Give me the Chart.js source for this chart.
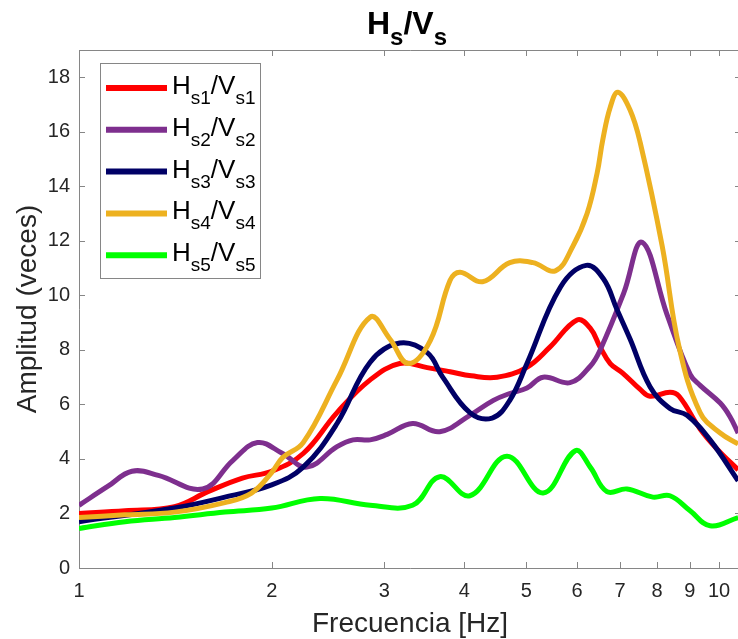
<!DOCTYPE html>
<html lang="es">
<head>
<meta charset="UTF-8" />
<title>Hs/Vs</title>
<style>
  html, body { margin: 0; padding: 0; background: #fff; overflow: hidden; }
  #wrap { width: 745px; height: 639px; }
</style>
<script src="https://cdn.jsdelivr.net/npm/chart.js@4"></script>
</head>
<body>
<div id="wrap"><canvas id="hv" width="745" height="639"></canvas></div>
<script>
  // cocientes espectrales H/V por estación: frecuencia [Hz] y amplitud
  const hv1Frec = [1.0, 1.18, 1.41, 1.59, 1.8, 2.0, 2.24, 2.53, 2.85, 3.17, 3.5, 3.8, 4.1, 4.5, 5.0, 5.44, 6.0, 6.29, 6.52, 6.76, 7.07, 7.53, 7.8, 8.38, 8.66, 9.34, 9.94, 10.71];
  const hv1Amp  = [2.0, 2.1, 2.25, 2.8, 3.3, 3.55, 4.2, 5.7, 6.9, 7.5, 7.35, 7.2, 7.05, 7.0, 7.35, 8.1, 9.1, 8.8, 8.1, 7.5, 7.15, 6.55, 6.3, 6.45, 6.3, 5.1, 4.35, 3.6];

  const hv2Frec = [1.0, 1.11, 1.21, 1.33, 1.56, 1.74, 1.9, 2.08, 2.27, 2.53, 2.68, 2.85, 3.03, 3.32, 3.66, 4.08, 4.44, 4.71, 5.01, 5.31, 5.85, 6.29, 6.52, 7.1, 7.58, 8.29, 9.01, 9.34, 10.04, 10.4, 10.71];
  const hv2Amp  = [2.3, 3.0, 3.55, 3.4, 2.9, 3.95, 4.6, 4.2, 3.7, 4.45, 4.7, 4.7, 4.9, 5.3, 5.0, 5.6, 6.15, 6.4, 6.6, 7.0, 6.8, 7.4, 8.0, 10.1, 11.95, 9.3, 7.1, 6.7, 6.05, 5.55, 4.95];

  const hv3Frec = [1.0, 1.41, 1.69, 2.0, 2.24, 2.53, 2.85, 3.17, 3.5, 3.7, 4.08, 4.42, 4.71, 5.01, 5.65, 6.2, 6.6, 6.92, 7.26, 7.8, 8.38, 8.91, 9.68, 10.71];
  const hv3Amp  = [1.7, 2.2, 2.6, 3.05, 3.7, 5.3, 7.55, 8.25, 7.9, 7.0, 5.7, 5.5, 6.15, 7.5, 10.3, 11.1, 10.6, 9.5, 8.4, 6.65, 5.85, 5.6, 4.7, 3.2];

  const hv4Frec = [1.0, 1.18, 1.41, 1.69, 1.86, 2.0, 2.08, 2.24, 2.53, 2.85, 3.06, 3.27, 3.54, 3.8, 3.94, 4.27, 4.71, 5.12, 5.55, 5.91, 6.22, 6.45, 6.58, 6.76, 6.95, 7.26, 7.53, 8.15, 8.66, 9.34, 10.04, 10.71];
  const hv4Amp  = [1.85, 1.95, 2.05, 2.4, 2.75, 3.5, 4.05, 4.6, 6.9, 9.2, 8.4, 7.5, 8.35, 10.55, 10.85, 10.5, 11.2, 11.2, 10.9, 11.8, 13.0, 14.5, 15.7, 16.9, 17.45, 16.8, 15.6, 11.8, 8.1, 5.7, 4.95, 4.55];

  const hv5Frec = [1.0, 1.18, 1.41, 1.69, 2.0, 2.38, 2.85, 3.32, 3.66, 4.08, 4.66, 5.31, 5.96, 6.29, 6.68, 7.18, 7.88, 8.38, 9.01, 9.68, 10.71];
  const hv5Amp  = [1.45, 1.7, 1.85, 2.05, 2.2, 2.55, 2.3, 2.3, 3.35, 2.65, 4.1, 2.75, 4.3, 3.7, 2.8, 2.9, 2.6, 2.65, 2.1, 1.55, 1.85];

  const estaciones = ['1', '2', '3', '4', '5'];
  const colores = ['#ff0000', '#7e2f8e', '#000066', '#edb120', '#00ff00'];
  const frecuencias = [hv1Frec, hv2Frec, hv3Frec, hv4Frec, hv5Frec];
  const amplitudes = [hv1Amp, hv2Amp, hv3Amp, hv4Amp, hv5Amp];

  const xTicks = [1, 2, 3, 4, 5, 6, 7, 8, 9, 10];
  const yTicks = [0, 2, 4, 6, 8, 10, 12, 14, 16, 18];

  const FONT = '"Liberation Sans", Arial, Helvetica, sans-serif';
  const AXIS_GRAY = '#868686';
  const TEXT_GRAY = '#262626';

  // texto con subíndices: partes [texto, esSub]
  function richWidth(ctx, parts, size, subSize, weight) {
    let w = 0;
    for (const [t, sub] of parts) {
      ctx.font = weight + ' ' + (sub ? subSize : size) + 'px ' + FONT;
      w += ctx.measureText(t).width;
    }
    return w;
  }
  function drawRich(ctx, parts, x, y, size, subSize, shift, weight) {
    ctx.textAlign = 'left';
    ctx.textBaseline = 'alphabetic';
    for (const [t, sub] of parts) {
      ctx.font = weight + ' ' + (sub ? subSize : size) + 'px ' + FONT;
      ctx.fillText(t, x, sub ? y + shift : y);
      x += ctx.measureText(t).width;
    }
  }
  const hvParts = (s) => [['H', false], ['s' + s, true], ['/', false], ['V', false], ['s' + s, true]];

  const datasets = estaciones.map((s, i) => ({
    label: 'Hs' + s + '/Vs' + s,
    data: frecuencias[i].map((f, k) => ({ x: f, y: amplitudes[i][k] })),
    borderColor: colores[i],
    borderWidth: 5,
    pointRadius: 0,
    tension: 0.4,
    order: estaciones.length - i
  }));

  // marco, marcas hacia dentro, título y leyenda estilo MATLAB
  const ejesPlugin = {
    id: 'ejes',
    beforeDatasetsDraw(chart) {
      const { ctx, chartArea: a, scales: { x, y } } = chart;
      ctx.save();
      ctx.strokeStyle = AXIS_GRAY;
      ctx.lineWidth = 1;
      ctx.beginPath();
      ctx.moveTo(a.left + 0.5, a.top + 0.5);
      ctx.lineTo(a.right, a.top + 0.5);
      ctx.moveTo(a.left + 0.5, a.top);
      ctx.lineTo(a.left + 0.5, a.bottom + 0.5);
      ctx.lineTo(a.right, a.bottom + 0.5);
      ctx.moveTo(a.right - 0.5, a.top);
      ctx.lineTo(a.right - 0.5, a.bottom);
      const tl = 6;
      for (const v of xTicks) {
        const px = Math.round(x.getPixelForValue(v)) + 0.5;
        ctx.moveTo(px, a.bottom);
        ctx.lineTo(px, a.bottom - tl);
        ctx.moveTo(px, a.top);
        ctx.lineTo(px, a.top + tl);
      }
      for (const v of yTicks) {
        const py = Math.round(y.getPixelForValue(v)) + 0.5;
        ctx.moveTo(a.left, py);
        ctx.lineTo(a.left + tl, py);
        ctx.moveTo(a.right, py);
        ctx.lineTo(a.right - tl, py);
      }
      ctx.stroke();

      // título
      ctx.fillStyle = '#000';
      const tParts = [['H', false], ['s', true], ['/', false], ['V', false], ['s', true]];
      const tw = richWidth(ctx, tParts, 32, 24, 'bold');
      const cx = (a.left + a.right) / 2 - 3;
      drawRich(ctx, tParts, cx - tw / 2, 34, 32, 24, 11, 'bold');
      ctx.restore();
    },
    afterDatasetsDraw(chart) {
      const { ctx, chartArea: a } = chart;
      const lx = a.left + 21, ly = a.top + 13, lw = 160, lh = 215;
      ctx.save();
      ctx.fillStyle = '#fff';
      ctx.fillRect(lx, ly, lw, lh);
      ctx.strokeStyle = AXIS_GRAY;
      ctx.lineWidth = 1;
      ctx.strokeRect(lx + 0.5, ly + 0.5, lw, lh);
      estaciones.forEach((s, i) => {
        const ry = ly + 25 + i * 41.8;
        ctx.strokeStyle = colores[i];
        ctx.lineWidth = 6;
        ctx.beginPath();
        ctx.moveTo(lx + 6, ry);
        ctx.lineTo(lx + 67, ry);
        ctx.stroke();
        ctx.fillStyle = '#000';
        drawRich(ctx, hvParts(s), lx + 72, ry + 6, 26, 19, 10, 'normal');
      });
      ctx.restore();
    }
  };

  new Chart(document.getElementById('hv'), {
    type: 'line',
    data: { datasets },
    options: {
      responsive: false,
      animation: false,
      layout: { padding: { top: 50, right: 4, left: 0, bottom: 0 } },
      plugins: { legend: { display: false }, tooltip: { enabled: false }, title: { display: false } },
      scales: {
        x: {
          type: 'logarithmic',
          min: 1,
          max: 10.82,
          grid: { display: false, drawTicks: false },
          border: { display: false },
          afterBuildTicks: (sc) => { sc.ticks = xTicks.map(v => ({ value: v })); },
          afterFit: (sc) => { sc.height = 71; },
          ticks: {
            autoSkip: false, maxRotation: 0, padding: 11,
            color: TEXT_GRAY, font: { family: FONT, size: 20 },
            callback: (v) => String(v)
          },
          title: {
            display: true, text: 'Frecuencia [Hz]', color: TEXT_GRAY,
            font: { family: FONT, size: 28, lineHeight: 1 }, padding: { top: 0, bottom: 1 }
          }
        },
        y: {
          min: 0,
          max: 19,
          grid: { display: false, drawTicks: false },
          border: { display: false },
          afterBuildTicks: (sc) => { sc.ticks = yTicks.map(v => ({ value: v })); },
          afterFit: (sc) => { sc.width = 79; },
          ticks: {
            padding: 9, color: TEXT_GRAY, font: { family: FONT, size: 20 },
            callback: (v) => String(v)
          },
          title: {
            display: true, text: 'Amplitud (veces)', color: TEXT_GRAY,
            font: { family: FONT, size: 28, lineHeight: 1 }, padding: { top: 14, bottom: 0 }
          }
        }
      }
    },
    plugins: [ejesPlugin]
  });
</script>
</body>
</html>
